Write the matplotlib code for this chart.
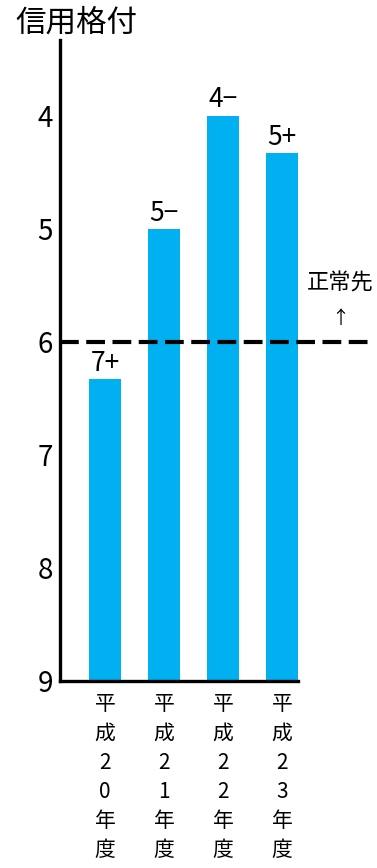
import matplotlib
matplotlib.use("Agg")
import matplotlib.pyplot as plt
from matplotlib.transforms import blended_transform_factory

plt.rcParams['font.family'] = ['Noto Sans CJK JP', 'DejaVu Sans']

categories = ["平\n成\n2\n0\n年\n度", "平\n成\n2\n1\n年\n度", "平\n成\n2\n2\n年\n度", "平\n成\n2\n3\n年\n度"]
values = [6.33, 5.0, 4.0, 4.33]
bar_labels = ["7+", "5−", "4−", "5+"]
yticks = [4, 5, 6, 7, 8, 9]
threshold = 6

W, H = 377, 868
fig = plt.figure(figsize=(W / 100, H / 100), dpi=100)
ax = fig.add_axes([60 / W, (H - 681) / H, (298 - 60) / W, (681 - 40) / H])

x = list(range(len(categories)))
bottom = 9
ax.bar(x, [bottom - v for v in values], bottom=values, width=0.54, color="#00B0F0")
ax.set_xlim(-0.763, 3.27)
ax.set_ylim(9, 3.33)

for xi, v, lab in zip(x, values, bar_labels):
    ax.text(xi, v - 0.02, lab, ha="center", va="bottom", fontsize=19)

ax.set_yticks(yticks)
ax.set_yticklabels([str(t) for t in yticks], fontsize=20)
ax.tick_params(axis="y", length=0, pad=5)
ax.set_xticks(x)
ax.set_xticklabels(categories, fontsize=15, linespacing=1.42, va="top")
ax.tick_params(axis="x", length=0, pad=9)

for s in ["top", "right"]:
    ax.spines[s].set_visible(False)
for s in ["left", "bottom"]:
    ax.spines[s].set_linewidth(2.4)

ax.axhline(threshold, xmin=0, xmax=(375 - 60) / (298 - 60), color="black",
           linestyle=(0, (4.5, 1.8)), linewidth=3, clip_on=False, zorder=3)

trans = blended_transform_factory(fig.transFigure, ax.transData)
ax.text(340 / W, 5.48, "正常先", transform=trans, ha="center", va="center", fontsize=16)
ax.text(340 / W, 5.8, "↑", transform=trans, ha="center", va="center", fontsize=13)

fig.text(15 / W, (H - 23) / H, "信用格付", ha="left", va="center", fontsize=22)

fig.savefig("out.png", dpi=100)
